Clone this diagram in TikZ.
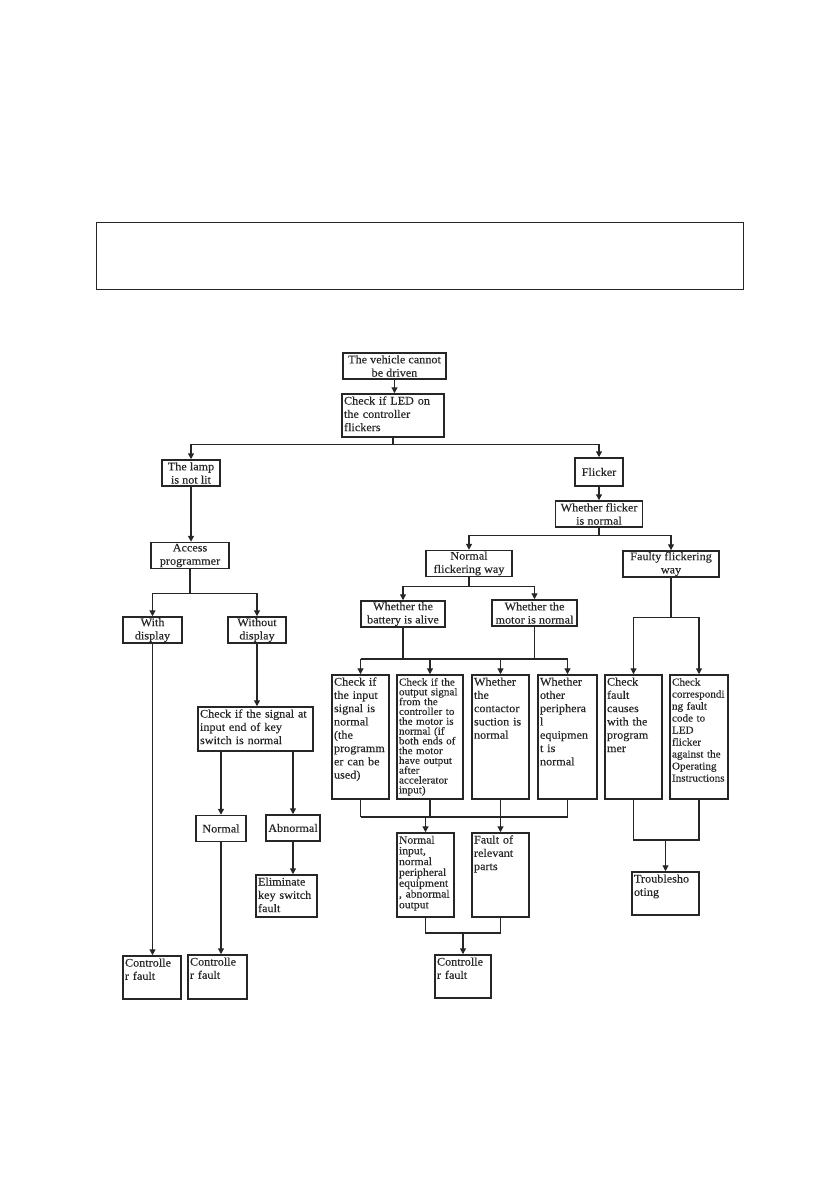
\documentclass[tikz,border=0pt]{standalone}
\usepackage{fontspec}
\setmainfont{Liberation Serif}[FakeStretch=1.06, FakeBold=0.3]
\usetikzlibrary{arrows.meta}

\begin{document}
\begin{tikzpicture}[x=1pt, y=-1pt, >={Triangle[length=6pt, width=6pt]}, line width=1.3pt, color=black!85,
  font=\fontsize{11.5}{13.3}\selectfont,
  cbox/.style={draw, line width=1.5pt, inner xsep=1pt, inner ysep=0.5pt, align=center, minimum width=#1, minimum height=26},
  lbox/.style={draw, line width=1.5pt, inner xsep=2pt, inner ysep=1.5pt, align=left, text width=#1},
  tall/.style={text height=9pt, text depth=#1},
  small/.style={font=\fontsize{10.5}{#1}\selectfont}]

\useasboundingbox (0,0) rectangle (839,1191);

\node[draw, line width=1pt, minimum width=647, minimum height=67] (notebox) at (419.5,255.5) {};

\node[cbox=103] (vehicle) at (394.5,366) {The vehicle cannot\\be driven};
\node[lbox=98, tall=31] (led) at (393,415.5) {Check if LED on\\the controller\\flickers};

\node[cbox=58] (lamp) at (191,473) {The lamp\\is not lit};
\node[cbox=48, minimum height=28] (flicker) at (599,472) {Flicker};
\node[cbox=87] (whfl) at (599,514) {Whether flicker\\is normal};
\node[cbox=86] (normfl) at (469,563.5) {Normal\\flickering way};
\node[cbox=96] (faulty) at (671,564) {Faulty flickering\\way};

\node[cbox=78] (access) at (190,555.5) {Access\\programmer};
\node[cbox=59] (withd) at (152.5,630) {With\\display};
\node[cbox=58] (nodisp) at (257,630) {Without\\display};
\node[lbox=111, tall=32] (keysig) at (255.5,729) {Check if the signal at\\input end of key\\switch is normal};
\node[cbox=50] (normal) at (221,828.5) {Normal};
\node[cbox=54] (abn) at (293,828) {Abnormal};
\node[lbox=57, tall=30] (elim) at (286.5,896) {Eliminate\\key switch\\fault};
\node[lbox=54, tall=31] (cfa) at (152,977.5) {Controlle\\r fault};
\node[lbox=55, tall=32] (cfb) at (217.5,977) {Controlle\\r fault};

\node[cbox=84] (battery) at (403,614) {Whether the\\battery is alive};
\node[cbox=85] (motor) at (534.5,613) {Whether the\\motor is normal};

\node[lbox=53, tall=112] (c1) at (360.5,737) {Check if\\the input\\signal is\\normal\\(the\\programm\\er can be\\used)};
\node[lbox=62, tall=112, small=9.8] (c2) at (430,737) {Check if the\\output signal\\from the\\controller to\\the motor is\\normal (if\\both ends of\\the motor\\have output\\after\\accelerator\\input)};
\node[lbox=53, tall=112] (c3) at (500.5,737) {Whether\\the\\contactor\\suction is\\normal};
\node[lbox=55, tall=112] (c4) at (567.5,737) {Whether\\other\\periphera\\l\\equipmen\\t is\\normal};
\node[lbox=53, tall=112] (r1) at (633.5,737) {Check\\fault\\causes\\with the\\program\\mer};
\node[lbox=54, tall=112, small=12] (r2) at (699,737) {Check\\correspondi\\ng fault\\code to\\LED\\flicker\\against the\\Operating\\Instructions};

\node[lbox=53, tall=72, font=\fontsize{11}{10.8}\selectfont] (normin) at (425.5,875) {Normal\\input,\\normal\\peripheral\\equipment\\, abnormal\\output};
\node[lbox=53, tall=72] (faultrel) at (500.5,875) {Fault of\\relevant\\parts};
\node[lbox=52, tall=31] (cfc) at (463,976.5) {Controlle\\r fault};
\node[lbox=63, tall=31] (trouble) at (665.5,893.5) {Troublesho\\oting};

\coordinate (busa) at (0,659);
\coordinate (busb) at (0,817);
\coordinate (busc) at (0,933);
\coordinate (busd) at (0,840);

\draw[->] (vehicle.south) -- (vehicle.south |- led.north);
\draw[->] (led.south) -- ++(0,7) -| (lamp.north);
\draw[->] (led.south) -- ++(0,7) -| (flicker.north);
\draw[->] (flicker) -- (whfl);
\draw[->] (whfl.south) -- ++(0,8) -| (normfl.north);
\draw[->] (whfl.south) -- ++(0,8) -| (faulty.north);

\draw[->] (lamp.south) -- (lamp.south |- access.north);
\draw[->] (access.south) -- ++(0,24) -| (withd.north);
\draw[->] (access.south) -- ++(0,24) -| (nodisp.north);
\draw[->] (withd.south) -- (withd.south |- cfa.north);
\draw[->] (nodisp.south) -- (nodisp.south |- keysig.north);
\draw[->] (keysig.south -| normal) -- (normal.north);
\draw[->] (keysig.south -| abn) -- (abn.north);
\draw[->] (abn.south) -- (abn.south |- elim.north);
\draw[->] (normal.south) -- (normal.south |- cfb.north);

\draw[->] (normfl.south) -- ++(0,9) -| (battery.north);
\draw[->] (normfl.south) -- ++(0,9) -| (motor.north);
\draw (battery.south) -- (battery.south |- busa);
\draw (motor.south) -- (motor.south |- busa);
\draw (c1.north |- busa) -- (c4.north |- busa);
\foreach \n in {c1,c2,c3,c4} \draw[->] (\n.north |- busa) -- (\n.north);
\foreach \n in {c1,c2,c3,c4} \draw (\n.south) -- (\n.south |- busb);
\draw (c1.south |- busb) -- (c4.south |- busb);
\draw[->] (normin.north |- busb) -- (normin.north);
\draw[->] (faultrel.north |- busb) -- (faultrel.north);
\draw (normin.south) -- (normin.south |- busc) -- (faultrel.south |- busc) -- (faultrel.south);
\draw[->] (cfc.north |- busc) -- (cfc.north);

\draw[->] (faulty.south) -- ++(0,40) -| (r1.north);
\draw[->] (faulty.south) -- ++(0,40) -| (r2.north);
\draw (r1.south) -- (r1.south |- busd) -- (r2.south |- busd) -- (r2.south);
\draw[->] (trouble.north |- busd) -- (trouble.north);
\end{tikzpicture}
\end{document}
